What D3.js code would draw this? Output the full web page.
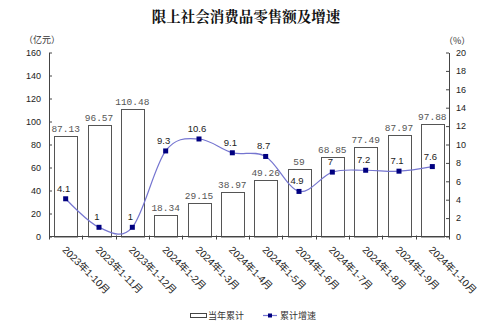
<!DOCTYPE html>
<html><head><meta charset="utf-8">
<script src="https://cdn.jsdelivr.net/npm/d3@7"></script>
<style>body{margin:0;background:#fff}svg{display:block}</style>
</head><body><svg id="c" width="500" height="322"></svg>
<script>
const categories = ["2023年1-10月","2023年1-11月","2023年1-12月","2024年1-2月","2024年1-3月","2024年1-4月","2024年1-5月","2024年1-6月","2024年1-7月","2024年1-8月","2024年1-9月","2024年1-10月"];
const amounts = [87.13,96.57,110.48,18.34,29.15,38.97,49.26,59,68.85,77.49,87.97,97.88];
const amountLabels = ["87.13","96.57","110.48","18.34","29.15","38.97","49.26","59","68.85","77.49","87.97","97.88"];
const growth = [4.1,1,1,9.3,10.6,9.1,8.7,4.9,7,7.2,7.1,7.6];
const leftTicks = [0,20,40,60,80,100,120,140,160];
const rightTicks = [0,2,4,6,8,10,12,14,16,18,20];
const title = "限上社会消费品零售额及增速";
const seriesNames = ["当年累计","累计增速"];

const svg = d3.select("#c");
const L=49, R=449, T=52.5, B=236.5;
const sans = "'Liberation Sans', Arial, 'Noto Sans CJK SC', sans-serif";
const x = d3.scaleBand().domain(categories).range([L,R]).paddingInner(0.31).paddingOuter(0.155);
const yL = d3.scaleLinear().domain([0,160]).range([B,T]);
const yR = d3.scaleLinear().domain([0,20]).range([B,T]);

svg.append("text").attr("x",246).attr("y",22).attr("text-anchor","middle")
  .attr("font-family","'Noto Serif CJK SC','Noto Sans CJK SC',serif").attr("font-weight","bold")
  .attr("font-size",14.5).attr("fill","#111").text(title);

svg.append("text").attr("x",24).attr("y",43).attr("font-family","'Noto Sans CJK SC',sans-serif")
  .attr("font-size",9).attr("fill","#333").text("（亿元）");
svg.append("text").attr("x",444).attr("y",44).attr("font-family","'Noto Sans CJK SC',sans-serif")
  .attr("font-size",9).attr("fill","#333").text("（%）");

// bars
svg.append("g").selectAll("rect").data(amounts).join("rect")
  .attr("x",(d,i)=>Math.round(x(categories[i]))+0.5).attr("y",d=>Math.round(yL(d))+0.5)
  .attr("width",Math.round(x.bandwidth())).attr("height",d=>B-Math.round(yL(d)))
  .attr("fill","#fff").attr("stroke","#555").attr("stroke-width",1);

// bar labels
svg.append("g").selectAll("text").data(amounts).join("text")
  .attr("x",(d,i)=>x(categories[i])+x.bandwidth()/2).attr("y",d=>yL(d)-4)
  .attr("text-anchor","middle").attr("font-family","'Liberation Mono','DejaVu Sans Mono',monospace")
  .attr("font-size",9.5).attr("fill","#555").text((d,i)=>amountLabels[i]);

// axes
const gl = svg.append("g").attr("transform",`translate(${L},0)`)
  .call(d3.axisLeft(yL).tickValues(leftTicks).tickSizeInner(-3).tickSizeOuter(0).tickPadding(8));
const gr = svg.append("g").attr("transform",`translate(${R},0)`)
  .call(d3.axisRight(yR).tickValues(rightTicks).tickSizeInner(-3).tickSizeOuter(0).tickPadding(7));
[gl,gr].forEach(g=>{
  g.selectAll("path,line").attr("stroke","#444");
  g.selectAll("text").attr("font-family",sans).attr("font-size",9).attr("fill","#222");
});

// x axis
svg.append("line").attr("x1",L).attr("x2",R).attr("y1",B).attr("y2",B).attr("stroke","#444");
const step = x.step();
const bounds = categories.map(c=>x(c)-step*x.paddingInner()/2).concat([R]);
svg.append("g").selectAll("line").data(bounds).join("line")
  .attr("x1",d=>Math.round(d)+0.5).attr("x2",d=>Math.round(d)+0.5).attr("y1",B-1).attr("y2",B+3)
  .attr("stroke","#444");
svg.append("g").selectAll("text").data(categories).join("text")
  .attr("transform",d=>`translate(${x(d)+x.bandwidth()/2-4},${B+14}) rotate(45)`)
  .attr("font-family",sans).attr("font-size",10).attr("fill","#222").text(d=>d);

// line
const cx = (d,i)=>x(categories[i])+x.bandwidth()/2;
const line = d3.line().x(cx).y(d=>yR(d)).curve(d3.curveCardinal.tension(0));
svg.append("path").datum(growth).attr("d",line).attr("fill","none")
  .attr("stroke","#7575d0").attr("stroke-width",1.2);
svg.append("g").selectAll("rect").data(growth).join("rect")
  .attr("x",(d,i)=>cx(d,i)-2.5).attr("y",d=>yR(d)-2.5).attr("width",5).attr("height",5)
  .attr("fill","#000080");
svg.append("g").selectAll("text").data(growth).join("text")
  .attr("x",(d,i)=>cx(d,i)-2).attr("y",d=>yR(d)-7)
  .attr("text-anchor","middle").attr("font-family",sans).attr("font-size",9.5).attr("fill","#222")
  .text(d=>d);

// legend
const lg = svg.append("g");
lg.append("rect").attr("x",190.5).attr("y",313.5).attr("width",16).attr("height",4)
  .attr("fill","#fff").attr("stroke","#444");
lg.append("text").attr("x",208).attr("y",318.5).attr("font-family","'Noto Sans CJK SC',sans-serif")
  .attr("font-size",9).attr("fill","#333").text(seriesNames[0]);
lg.append("line").attr("x1",263).attr("x2",277).attr("y1",315.5).attr("y2",315.5).attr("stroke","#7575d0").attr("stroke-width",1.2);
lg.append("rect").attr("x",268).attr("y",313.5).attr("width",4).attr("height",4).attr("fill","#000080");
lg.append("text").attr("x",280).attr("y",318.5).attr("font-family","'Noto Sans CJK SC',sans-serif")
  .attr("font-size",9).attr("fill","#333").text(seriesNames[1]);
</script></body></html>
